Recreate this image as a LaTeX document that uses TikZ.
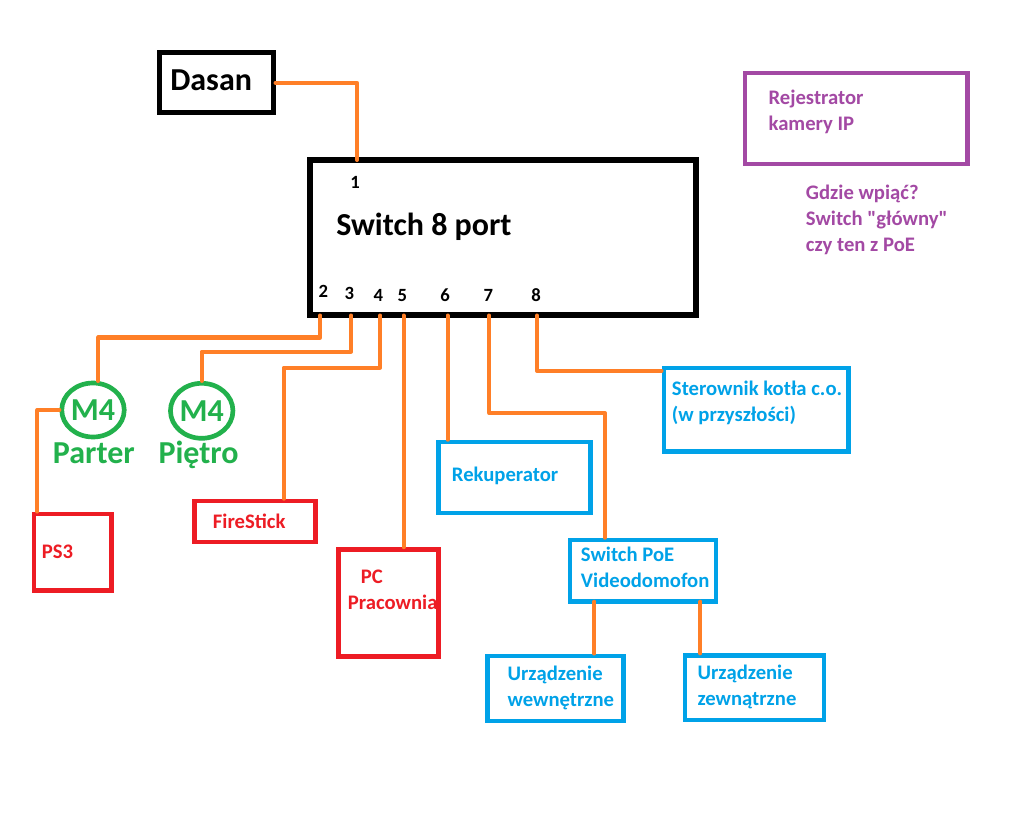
\documentclass[tikz,border=0pt]{standalone}
\usepackage{fontspec}
\setmainfont{Carlito}
\usetikzlibrary{fit, shapes.geometric}

\definecolor{wireorange}{HTML}{FF7F27}
\definecolor{devred}{HTML}{ED1C24}
\definecolor{devblue}{HTML}{00A2E8}
\definecolor{m4green}{HTML}{22B14C}
\definecolor{nvrpurple}{HTML}{A349A4}

\begin{document}
\begin{tikzpicture}[x=0.75pt, y=-0.75pt,
    box/.style={draw, inner sep=0pt, line width=3.4pt},
    wire/.style={wireorange, line width=3pt, line cap=round, line join=round},
    lbl/.style={anchor=base west, inner sep=0pt, align=left, font=\bfseries\fontsize{15.5}{19.5}\selectfont},
    big/.style={anchor=base west, inner sep=0pt, font=\bfseries\fontsize{24}{24}\selectfont},
    portnr/.style={anchor=base, inner sep=0pt, font=\bfseries\fontsize{14}{14}\selectfont},
    m4/.style={ellipse, draw=m4green, text=m4green, line width=3.5pt, inner sep=0pt,
        minimum width=44pt, minimum height=40.5pt, font=\bfseries\fontsize{24}{24}\selectfont}]

    \fill[white] (0,0) rectangle (1027,816);
    \useasboundingbox (0,0) rectangle (1027,816);

    % Dasan and the main switch
    \node[box, line width=3.75pt, fit={(159.5,52.5) (273,113)}] (dasan) {};
    \node[big] (dasantxt) at (170,91) {Dasan};
    \node[box, line width=4.5pt, fit={(310,160) (696,315.5)}] (sw) {};
    \node[big] (swtxt) at (336,235.5) {Switch 8 port};

    % Ports
    \coordinate (p1) at (357,160);
    \coordinate (p2) at (320.3,315.5);
    \coordinate (p3) at (351.3,315.5);
    \coordinate (p4) at (380.3,315.5);
    \coordinate (p5) at (403.5,315.5);
    \coordinate (p6) at (447.5,315.5);
    \coordinate (p7) at (489.3,315.5);
    \coordinate (p8) at (537,315.5);
    \node[portnr] (n1) at (355,189) {1};
    \node[portnr] (n2) at (323.3,298) {2};
    \node[portnr] (n3) at (349.3,300) {3};
    \node[portnr] (n4) at (378.3,301.7) {4};
    \node[portnr] (n5) at (402.3,301) {5};
    \node[portnr] (n6) at (445,301) {6};
    \node[portnr] (n7) at (488.3,301) {7};
    \node[portnr] (n8) at (536,301) {8};

    % M4 access points
    \node[m4] (parter) at (93,410) {M4};
    \node[m4, minimum height=41.25pt] (pietro) at (201.7,410.8) {M4};
    \node[big, text=m4green] (partertxt) at (52.7,463) {Parter};
    \node[big, text=m4green] (pietrotxt) at (158.3,463.5) {Piętro};

    % Red devices
    \node[box, draw=devred, fit={(33.8,513.8) (111.3,590.5)}] (ps3) {};
    \node[lbl, text=devred] (ps3txt) at (41.7,558.3) {PS3};
    \node[box, draw=devred, fit={(194.7,501) (315.3,542)}] (fire) {};
    \node[lbl, text=devred] (firetxt) at (212.7,528.3) {FireStick};
    \node[box, draw=devred, fit={(338.3,549.5) (438.3,656.3)}] (pc) {};
    \node[lbl, text=devred] (pctxt) at (347.7,609) {\hspace*{9.75pt}PC\\Pracownia};

    % Blue devices
    \node[box, draw=devblue, fit={(438.7,442) (590.5,512.8)}] (reku) {};
    \node[lbl, text=devblue] (rekutxt) at (451.7,481.7) {Rekuperator};
    \node[box, draw=devblue, fit={(663.8,367.8) (848.3,451.7)}] (kociol) {};
    \node[lbl, text=devblue] (kocioltxt) at (671.7,421) {Sterownik kotła c.o.\\(w przyszłości)};
    \node[box, draw=devblue, fit={(569.8,540) (716.2,601.7)}] (poe) {};
    \node[lbl, text=devblue] (poetxt) at (580.7,587.7) {Switch PoE\\Videodomofon};
    \node[box, draw=devblue, fit={(487.7,655.8) (623.3,720.8)}] (wewn) {};
    \node[lbl, text=devblue] (wewntxt) at (507.3,706.7) {Urządzenie\\wewnętrzne};
    \node[box, draw=devblue, fit={(685,655.7) (824.2,720)}] (zewn) {};
    \node[lbl, text=devblue] (zewntxt) at (697.3,705.7) {Urządzenie\\zewnątrzne};
    \coordinate (poe1) at (594.3,601.7);
    \coordinate (poe2) at (700.3,601.7);

    % Recorder, not yet connected
    \node[box, draw=nvrpurple, fit={(745,73.2) (967.5,164.2)}] (nvr) {};
    \node[lbl, text=nvrpurple] (nvrtxt) at (768.3,130.7) {Rejestrator\\kamery IP};
    \node[lbl, text=nvrpurple] (pytanie) at (805.7,251.7) {Gdzie wpiąć?\\Switch \textquotedbl główny\textquotedbl\\czy ten z PoE};

    % Cables
    \draw[wire] (dasan.east) -| (p1);
    \draw[wire] (p2) -- ++(0,22) -| (parter.80);
    \draw[wire] (p3) -- ++(0,36) -| (pietro.north);
    \draw[wire] (p4) -- ++(0,52) -| ([xshift=68.5pt]fire.north west);
    \draw[wire] (p5) -- (p5 |- pc.north);
    \draw[wire] (p6) -- (p6 |- reku.north);
    \draw[wire] (p7) -- ++(0,97.5) -| ([xshift=27.9pt]poe.north west);
    \draw[wire] (p8) |- ([yshift=-4.1pt]kociol.north west);
    \draw[wire] (parter.west) -| ([xshift=4.4pt]ps3.north west);
    \draw[wire] (poe1) -- (poe1 |- wewn.north);
    \draw[wire] (poe2) -- (poe2 |- zewn.north);
\end{tikzpicture}
\end{document}
